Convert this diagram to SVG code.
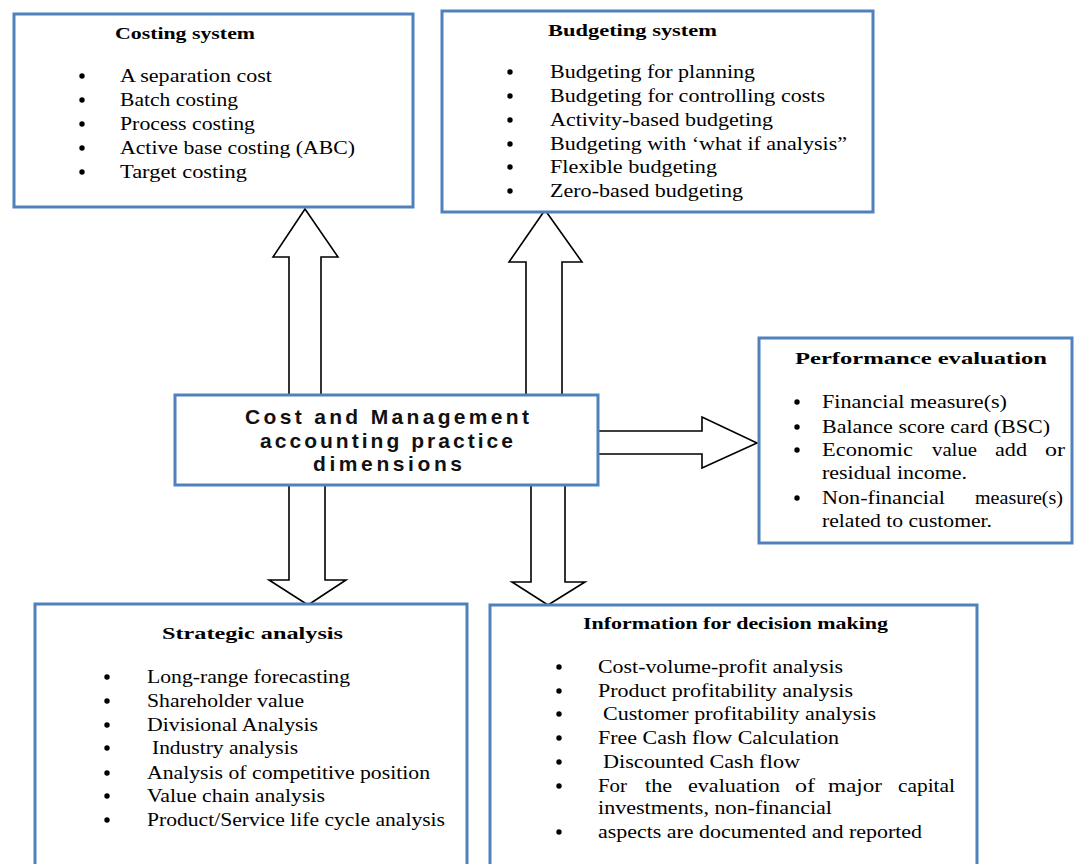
<svg xmlns="http://www.w3.org/2000/svg" xmlns:xlink="http://www.w3.org/1999/xlink" width="1074" height="864" viewBox="0 0 1074 864">
<style>
.box{fill:#fff;stroke:#4f81bd;stroke-width:3}
.arrow{fill:#fff;stroke:#000;stroke-width:1.6;stroke-linejoin:miter}
.t{font-family:"Liberation Serif","Times New Roman",serif;font-size:18px;fill:#000}
.h{font-family:"Liberation Serif","Times New Roman",serif;font-size:17px;font-weight:bold;fill:#000}
.c{font-family:"Liberation Sans",Arial,sans-serif;font-size:21px;font-weight:bold;fill:#111}
</style>
<defs>
<circle id="dot" r="2.7" fill="#000"/>
</defs>
<rect width="1074" height="864" fill="#fff"/>

<g id="connectors">
<polygon class="arrow" points="289,395 289,257 273,257 305,209 338,257 321,257 321,395"/>
<polygon class="arrow" points="526,395 526,262 509,262 545,210 582,262 562,262 562,395"/>
<polygon class="arrow" points="598,431 702,431 702,417 757,443 702,468 702,454 598,454"/>
<polygon class="arrow" points="289,485 289,580 269,580 308,605 346,580 325,580 325,485"/>
<polygon class="arrow" points="531,485 531,582 512,582 548,605 585,582 565,582 565,485"/>
</g>

<g id="costing">
<rect class="box" x="14" y="14" width="399" height="193"/>
<text class="h" x="115" y="39" textLength="140" lengthAdjust="spacingAndGlyphs">Costing system</text>
<use href="#dot" x="82" y="76"/><use href="#dot" x="82" y="100"/><use href="#dot" x="82" y="124"/><use href="#dot" x="82" y="148"/><use href="#dot" x="82" y="172"/>
<text class="t" x="120" y="82" textLength="152" lengthAdjust="spacingAndGlyphs">A separation cost</text>
<text class="t" x="120" y="106" textLength="118" lengthAdjust="spacingAndGlyphs">Batch costing</text>
<text class="t" x="120" y="130" textLength="135" lengthAdjust="spacingAndGlyphs">Process costing</text>
<text class="t" x="120" y="154" textLength="235" lengthAdjust="spacingAndGlyphs">Active base costing (ABC)</text>
<text class="t" x="120" y="178" textLength="127" lengthAdjust="spacingAndGlyphs">Target costing</text>
</g>

<g id="budgeting">
<rect class="box" x="442" y="11" width="431" height="201"/>
<text class="h" x="548" y="36" textLength="169" lengthAdjust="spacingAndGlyphs">Budgeting system</text>
<use href="#dot" x="510" y="72"/><use href="#dot" x="510" y="96"/><use href="#dot" x="510" y="120"/><use href="#dot" x="510" y="144"/><use href="#dot" x="510" y="167"/><use href="#dot" x="510" y="191"/>
<text class="t" x="550" y="78" textLength="205" lengthAdjust="spacingAndGlyphs">Budgeting for planning</text>
<text class="t" x="550" y="102" textLength="275" lengthAdjust="spacingAndGlyphs">Budgeting for controlling costs</text>
<text class="t" x="550" y="126" textLength="223" lengthAdjust="spacingAndGlyphs">Activity-based budgeting</text>
<text class="t" x="550" y="150" textLength="297" lengthAdjust="spacingAndGlyphs">Budgeting with ‘what if analysis”</text>
<text class="t" x="550" y="173" textLength="167" lengthAdjust="spacingAndGlyphs">Flexible budgeting</text>
<text class="t" x="550" y="197" textLength="193" lengthAdjust="spacingAndGlyphs">Zero-based budgeting</text>
</g>

<g id="center">
<rect class="box" x="175" y="395" width="423" height="90"/>
<text class="c" x="245" y="424" textLength="284" lengthAdjust="spacing">Cost and Management</text>
<text class="c" x="260" y="448" textLength="253" lengthAdjust="spacing">accounting practice</text>
<text class="c" x="313" y="471" textLength="149" lengthAdjust="spacing">dimensions</text>
</g>

<g id="performance">
<rect class="box" x="759" y="338" width="313" height="205"/>
<text class="h" x="795" y="364" textLength="252" lengthAdjust="spacingAndGlyphs">Performance evaluation</text>
<use href="#dot" x="797" y="402"/><use href="#dot" x="797" y="427"/><use href="#dot" x="797" y="450"/><use href="#dot" x="797" y="498"/>
<text class="t" x="822" y="408" textLength="185" lengthAdjust="spacingAndGlyphs">Financial measure(s)</text>
<text class="t" x="822" y="433" textLength="228" lengthAdjust="spacingAndGlyphs">Balance score card (BSC)</text>
<text class="t" y="456"><tspan x="822" textLength="91" lengthAdjust="spacingAndGlyphs">Economic</tspan><tspan x="932" textLength="45" lengthAdjust="spacingAndGlyphs">value</tspan><tspan x="995" textLength="32" lengthAdjust="spacingAndGlyphs">add</tspan><tspan x="1045" textLength="20" lengthAdjust="spacingAndGlyphs">or</tspan></text>
<text class="t" x="822" y="479" textLength="145" lengthAdjust="spacingAndGlyphs">residual income.</text>
<text class="t" y="504"><tspan x="822" textLength="123" lengthAdjust="spacingAndGlyphs">Non-financial</tspan><tspan x="975" textLength="88" lengthAdjust="spacingAndGlyphs">measure(s)</tspan></text>
<text class="t" x="822" y="527" textLength="170" lengthAdjust="spacingAndGlyphs">related to customer.</text>
</g>

<g id="strategic">
<rect class="box" x="35" y="604" width="432" height="280"/>
<text class="h" x="162" y="639" textLength="181" lengthAdjust="spacingAndGlyphs">Strategic analysis</text>
<use href="#dot" x="107" y="677"/><use href="#dot" x="107" y="701"/><use href="#dot" x="107" y="725"/><use href="#dot" x="107" y="748"/><use href="#dot" x="107" y="773"/><use href="#dot" x="107" y="796"/><use href="#dot" x="107" y="820"/>
<text class="t" x="147" y="683" textLength="203" lengthAdjust="spacingAndGlyphs">Long-range forecasting</text>
<text class="t" x="147" y="707" textLength="157" lengthAdjust="spacingAndGlyphs">Shareholder value</text>
<text class="t" x="147" y="731" textLength="171" lengthAdjust="spacingAndGlyphs">Divisional Analysis</text>
<text class="t" x="152" y="754" textLength="146" lengthAdjust="spacingAndGlyphs">Industry analysis</text>
<text class="t" x="147" y="779" textLength="283" lengthAdjust="spacingAndGlyphs">Analysis of competitive position</text>
<text class="t" x="147" y="802" textLength="178" lengthAdjust="spacingAndGlyphs">Value chain analysis</text>
<text class="t" x="147" y="826" textLength="298" lengthAdjust="spacingAndGlyphs">Product/Service life cycle analysis</text>
</g>

<g id="information">
<rect class="box" x="490" y="605" width="487" height="280"/>
<text class="h" x="583" y="629" textLength="305" lengthAdjust="spacingAndGlyphs">Information for decision making</text>
<use href="#dot" x="559" y="667"/><use href="#dot" x="559" y="691"/><use href="#dot" x="559" y="714"/><use href="#dot" x="559" y="738"/><use href="#dot" x="559" y="762"/><use href="#dot" x="559" y="786"/><use href="#dot" x="559" y="832"/>
<text class="t" x="598" y="673" textLength="245" lengthAdjust="spacingAndGlyphs">Cost-volume-profit analysis</text>
<text class="t" x="598" y="697" textLength="255" lengthAdjust="spacingAndGlyphs">Product profitability analysis</text>
<text class="t" x="603" y="720" textLength="273" lengthAdjust="spacingAndGlyphs">Customer profitability analysis</text>
<text class="t" x="598" y="744" textLength="241" lengthAdjust="spacingAndGlyphs">Free Cash flow Calculation</text>
<text class="t" x="603" y="768" textLength="197" lengthAdjust="spacingAndGlyphs">Discounted Cash flow</text>
<text class="t" y="792"><tspan x="598" textLength="29" lengthAdjust="spacingAndGlyphs">For</tspan><tspan x="645" textLength="27" lengthAdjust="spacingAndGlyphs">the</tspan><tspan x="688" textLength="92" lengthAdjust="spacingAndGlyphs">evaluation</tspan><tspan x="795" textLength="20" lengthAdjust="spacingAndGlyphs">of</tspan><tspan x="828" textLength="54" lengthAdjust="spacingAndGlyphs">major</tspan><tspan x="898" textLength="57" lengthAdjust="spacingAndGlyphs">capital</tspan></text>
<text class="t" x="598" y="814" textLength="234" lengthAdjust="spacingAndGlyphs">investments, non-financial</text>
<text class="t" x="598" y="838" textLength="324" lengthAdjust="spacingAndGlyphs">aspects are documented and reported</text>
</g>
</svg>
